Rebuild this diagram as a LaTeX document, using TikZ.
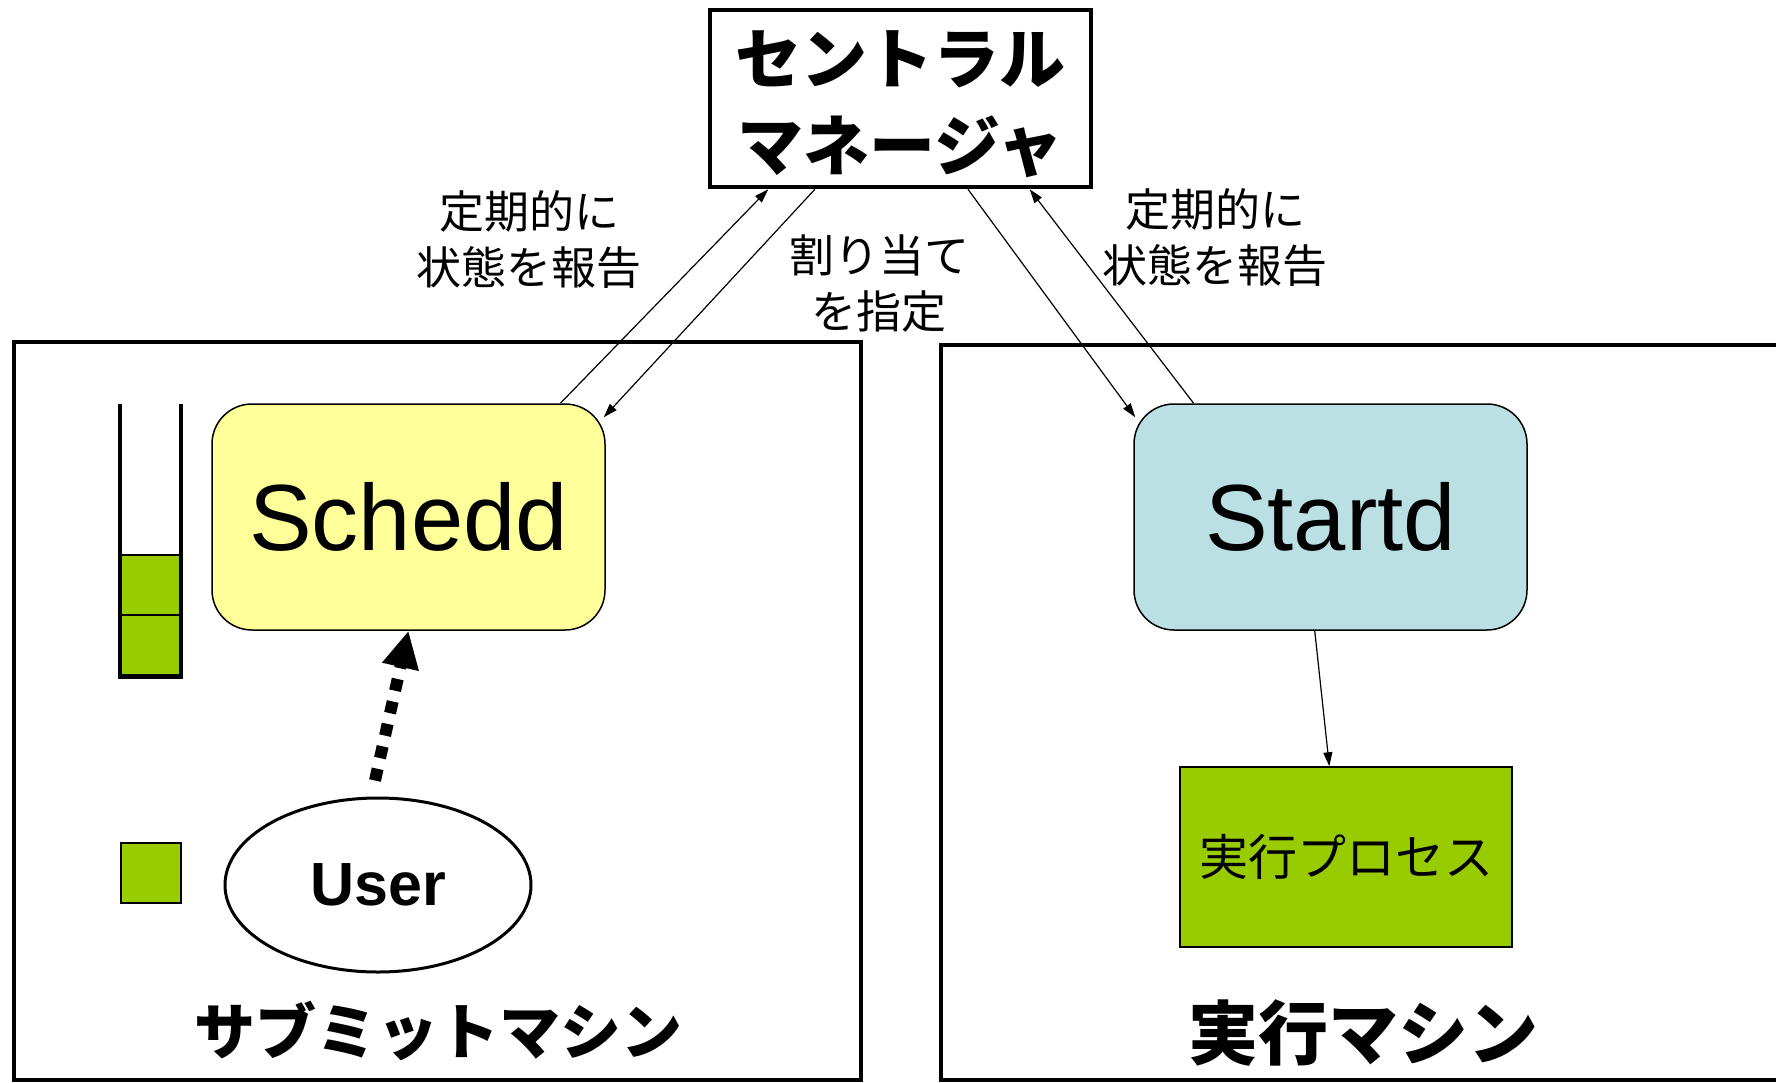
\documentclass[tikz,border=0pt]{standalone}
\usepackage{fontspec}
\setmainfont{Liberation Sans}
\newfontfamily\jp{Noto Sans CJK JP}
\usetikzlibrary{arrows.meta,calc,shapes.geometric}
\definecolor{schedfill}{HTML}{FFFF99}
\definecolor{startfill}{HTML}{BBE0E3}
\definecolor{jobgreen}{HTML}{99CC00}
\tikzset{
  machine/.style={draw, line width=4.5pt, inner sep=0pt, outer sep=0pt},
  cmbox/.style={draw, line width=4.5pt, minimum width=381pt, minimum height=177pt, inner sep=0pt},
  cmtext/.style={align=center, inner sep=0pt, font=\jp\bfseries\fontsize{66}{87}\selectfont},
  daemon/.style={draw, line width=1.5pt, rounded corners=40pt, minimum width=393pt, minimum height=226pt,
     inner sep=0pt, font=\fontsize{94}{100}\selectfont},
  cell/.style={draw, line width=1.5pt, fill=jobgreen, minimum width=61pt, minimum height=60pt, inner sep=0pt},
  userell/.style={draw, ellipse, line width=3pt, minimum width=306pt, minimum height=174pt, inner sep=0pt,
     font=\bfseries\fontsize{61}{66}\selectfont},
  procbox/.style={draw, line width=1.5pt, fill=jobgreen, minimum width=332pt, minimum height=180pt, inner sep=0pt,
     font=\jp\fontsize{49}{52}\selectfont},
  lbl/.style={align=center, inner sep=0pt, font=\jp\fontsize{45}{56}\selectfont},
  mlbl/.style={inner sep=0pt, font=\jp\bfseries\fontsize{61}{70}\selectfont},
  mlblb/.style={inner sep=0pt, font=\jp\bfseries\fontsize{70}{76}\selectfont},
  conn/.style={line width=1.2pt, -{Triangle[length=14pt,width=9pt]}},
  submit/.style={line width=12pt, dash pattern=on 12pt off 11pt, -{Triangle[length=37pt,width=35pt]}},
  qline/.style={line width=4pt}
}
\begin{document}
\begin{tikzpicture}[x=1pt,y=-1pt]
\useasboundingbox (0,0) rectangle (1776,1083);
\clip (0,0) rectangle (1776,1083);
\fill[white] (0,0) rectangle (1776,1083);

% machine frames
\node[machine, minimum width=847pt, minimum height=738pt] (subm) at (437.5,711) {};
\node[machine, minimum width=849pt, minimum height=735pt] (execm) at (1365.5,712.5) {};
\node[mlbl] (submlbl) at (438,1031) {サブミットマシン};
\node[mlblb] (execlbl) at (1363,1033) {実行マシン};

% central manager
\node[cmbox] (cm) at (900.5,98.5) {};
\node[cmtext] (cmtxt) at ($(cm.center)+(0,6)$) {セントラル\\マネージャ};

% daemons
\node[daemon, fill=schedfill] (sched) at (408.5,517) {Schedd};
\node[daemon, fill=startfill] (startd) at (1330.5,517) {Startd};

% queue
\node[cell] (q1) at (150.5,585) {};
\node[cell] (q2) at (150.5,645.5) {};
\draw[qline] (120,404) -- (120,677);
\draw[qline] (181,404) -- (181,677);
\draw[line width=5pt] (118,676.5) -- (183,676.5);

% single job
\node[cell, minimum width=60pt] (job) at (151,873) {};

% user
\node[userell] (user) at (378,885) {User};

% execution process
\node[procbox] (proc) at (1346,857) {実行プロセス};

% labels
\node[lbl] (l1) at (529,240) {定期的に\\状態を報告};
\node[lbl] (l2) at (879,284) {割り当て\\を指定};
\node[lbl] (l3) at (1215,238) {定期的に\\状態を報告};

% connectors
\draw[conn] ($(sched.north west)!0.885!(sched.north east)$) -- ($(cm.south west)!0.157!(cm.south east)$);
\draw[conn] ($(cm.south west)!0.278!(cm.south east)$) -- ($(sched.north east)+(-2,14)$);
\draw[conn] ($(cm.south west)!0.675!(cm.south east)$) -- ($(startd.north west)+(2,14)$);
\draw[conn] ($(startd.north west)!0.153!(startd.north east)$) -- ($(cm.south west)!0.835!(cm.south east)$);
\draw[conn] ($(startd.south west)!0.46!(startd.south east)$) -- ($(proc.north west)!0.45!(proc.north east)$);
\draw[submit] ($(user.north)+(-3,-16)$) -- (sched.south);
\end{tikzpicture}
\end{document}
